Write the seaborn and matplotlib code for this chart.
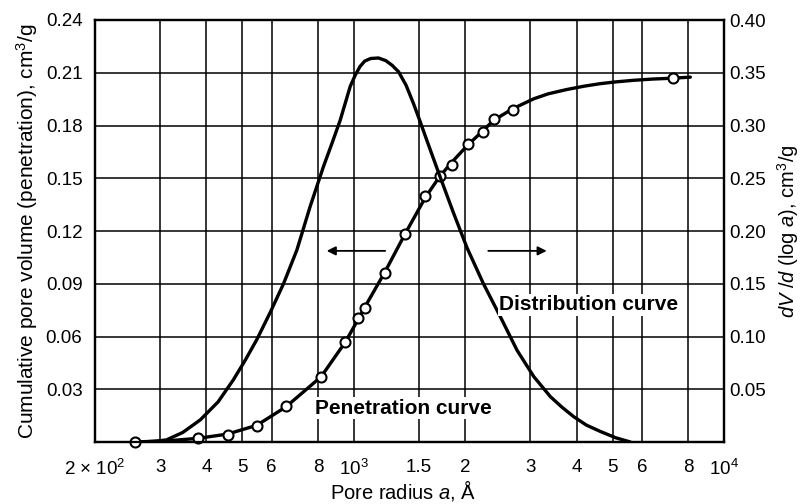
import matplotlib
matplotlib.use('Agg')
import matplotlib.pyplot as plt
from matplotlib.ticker import NullLocator, FixedLocator
import pandas as pd
import seaborn as sns

# Penetration (cumulative pore volume) measured points, left axis
pen_radius = [257, 380, 456, 547, 656, 816, 948, 1026, 1073, 1211, 1377, 1560,
              1706, 1842, 2034, 2233, 2387, 2687, 7265]
pen_volume = [0.0, 0.0021, 0.0042, 0.0093, 0.0205, 0.0371, 0.0567, 0.0703, 0.0764,
              0.0960, 0.1181, 0.1400, 0.1510, 0.1576, 0.1694, 0.1762, 0.1838, 0.1889, 0.2069]

# Readings of the smooth penetration curve line, left axis
pen_curve_radius = [257, 320, 380, 456, 547, 656, 816, 948, 1026, 1073, 1211, 1377,
                    1560, 1706, 1842, 2034, 2233, 2387, 2687, 3063, 3350, 3767, 4200,
                    4634, 5100, 5700, 6400, 7265, 8110]
pen_curve_volume = [0.0, 0.0008, 0.0021, 0.0045, 0.0095, 0.0200, 0.0371, 0.0567,
                    0.0695, 0.0770, 0.0963, 0.1185, 0.1390, 0.1510, 0.1592, 0.1690,
                    0.1770, 0.1830, 0.1895, 0.1952, 0.1980, 0.2005, 0.2024, 0.2038,
                    0.2048, 0.2057, 0.2064, 0.2069, 0.2075]

# Distribution curve dV/d(log a), right axis
dist_radius = [265, 290, 312, 345, 385, 430, 473, 510, 547, 595, 646, 702, 762, 828,
               875, 919, 978, 1010, 1040, 1070, 1110, 1166, 1220, 1270, 1321, 1385,
               1449, 1510, 1575, 1640, 1712, 1860, 2023, 2240, 2486, 2760, 3063, 3396,
               3650, 3927, 4250, 4634, 5100, 5585]
dist_value = [0.0, 0.0006, 0.002, 0.009, 0.021, 0.038, 0.059, 0.078, 0.097, 0.123,
              0.150, 0.182, 0.223, 0.261, 0.284, 0.305, 0.337, 0.348, 0.356, 0.361,
              0.3635, 0.364, 0.3615, 0.357, 0.351, 0.338, 0.321, 0.304, 0.286, 0.269,
              0.251, 0.217, 0.184, 0.150, 0.119, 0.087, 0.062, 0.043, 0.033, 0.024,
              0.016, 0.010, 0.004, 0.0]

x_ticks = [200, 300, 400, 500, 600, 800, 1000, 1500, 2000, 3000, 4000, 5000, 6000, 8000, 10000]
x_tick_labels = [r'2 $\times$ 10$^2$', '3', '4', '5', '6', '8', '10$^3$', '1.5', '2',
                 '3', '4', '5', '6', '8', '10$^4$']
left_ticks = [0.03, 0.06, 0.09, 0.12, 0.15, 0.18, 0.21, 0.24]
left_tick_labels = ['0.03', '0.06', '0.09', '0.12', '0.15', '0.18', '0.21', '0.24']
right_ticks = [0.05, 0.10, 0.15, 0.20, 0.25, 0.30, 0.35, 0.40]
right_tick_labels = ['0.05', '0.10', '0.15', '0.20', '0.25', '0.30', '0.35', '0.40']

sns.set_theme(style='white')
plt.rcParams['font.family'] = ['Liberation Sans', 'DejaVu Sans']
plt.rcParams['mathtext.fontset'] = 'custom'
plt.rcParams['mathtext.rm'] = 'Liberation Sans'
plt.rcParams['mathtext.it'] = 'Liberation Sans:italic'
plt.rcParams['mathtext.bf'] = 'Liberation Sans:bold'
plt.rcParams['text.color'] = 'black'
plt.rcParams['axes.labelcolor'] = 'black'
plt.rcParams['xtick.color'] = 'black'
plt.rcParams['ytick.color'] = 'black'

fig = plt.figure(figsize=(8, 5.04), dpi=100)
ax = fig.add_axes([95 / 800, 62 / 504, 629 / 800, 422 / 504])
ax.set_xscale('log')
ax.set_xlim(200, 10000)
ax.set_ylim(0, 0.24)
ax2 = ax.twinx()
ax2.set_ylim(0, 0.40)

pen_df = pd.DataFrame({'radius': pen_radius, 'volume': pen_volume})
pen_line_df = pd.DataFrame({'radius': pen_curve_radius, 'volume': pen_curve_volume})
dist_df = pd.DataFrame({'radius': dist_radius, 'value': dist_value})

sns.lineplot(data=pen_line_df, x='radius', y='volume', ax=ax, color='black',
             linewidth=2.4, sort=False, zorder=3)
sns.scatterplot(data=pen_df, x='radius', y='volume', ax=ax, marker='o', s=52,
                facecolor='white', edgecolor='black', linewidth=1.5, zorder=5,
                clip_on=False)
sns.lineplot(data=dist_df, x='radius', y='value', ax=ax2, color='black',
             linewidth=2.4, sort=False, zorder=3)

ax.xaxis.set_major_locator(FixedLocator(x_ticks))
ax.xaxis.set_minor_locator(NullLocator())
ax.set_xticklabels(x_tick_labels)
ax.set_yticks(left_ticks)
ax.set_yticklabels(left_tick_labels)
ax2.set_yticks(right_ticks)
ax2.set_yticklabels(right_tick_labels)
ax2.set_xlim(200, 10000)

ax.grid(True, which='major', color='black', linewidth=1.1)
ax.set_axisbelow(True)

ax.tick_params(axis='x', length=0, pad=12, labelsize=13.5, colors='black')
ax.tick_params(axis='y', length=0, pad=9, labelsize=13.5, colors='black')
ax2.tick_params(axis='y', length=0, pad=4, labelsize=13.5, colors='black')

for a in (ax, ax2):
    for s in a.spines.values():
        s.set_color('black')
        s.set_linewidth(1.6)

ax.set_xlabel(r'Pore radius $a$, Å', fontsize=14.5, color='black')
ax.xaxis.set_label_coords(0.49, -0.086)
ax.set_ylabel(r'Cumulative pore volume (penetration), cm$^3$/g', fontsize=15,
              color='black', labelpad=4)
ax2.set_ylabel(r'$dV$ /$d$ (log $a$), cm$^3$/g', fontsize=14.5, color='black', labelpad=6)

ax2.text(786, 0.0193 / 0.24 * 0.40, 'Penetration curve', fontsize=15, fontweight='bold',
         ha='left', va='center', zorder=6, color='black',
         bbox=dict(facecolor='white', edgecolor='none', pad=1.0))
ax2.text(2470, 0.078 / 0.24 * 0.40, 'Distribution curve', fontsize=15, fontweight='bold',
         ha='left', va='center', zorder=6, color='black',
         bbox=dict(facecolor='white', edgecolor='none', pad=1.0))

arrow_y = 0.1087
ax.annotate('', xy=(845, arrow_y), xytext=(1216, arrow_y),
            arrowprops=dict(arrowstyle='-|>', color='black', lw=1.3, mutation_scale=13,
                            shrinkA=0, shrinkB=0))
ax.annotate('', xy=(3320, arrow_y), xytext=(2308, arrow_y),
            arrowprops=dict(arrowstyle='-|>', color='black', lw=1.3, mutation_scale=13,
                            shrinkA=0, shrinkB=0))

fig.savefig('out.png', dpi=100, facecolor='white')
